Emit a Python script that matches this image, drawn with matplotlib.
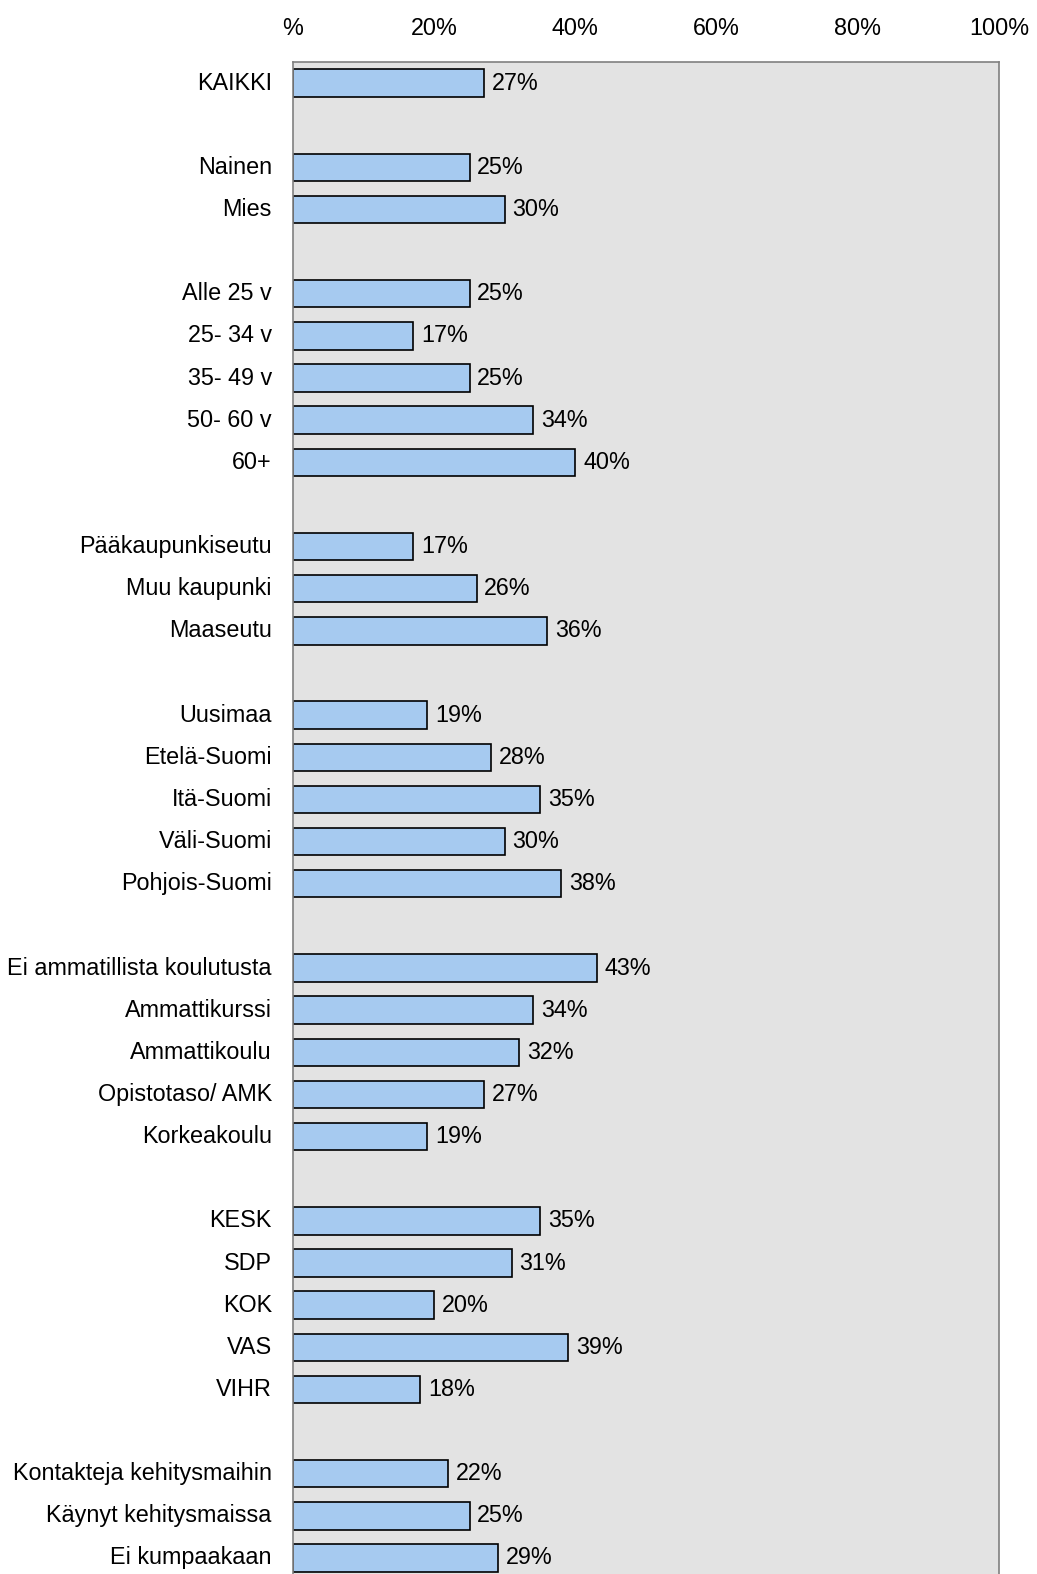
import matplotlib
matplotlib.use("Agg")
import matplotlib.pyplot as plt

plt.rcParams['font.family'] = ['Liberation Sans', 'DejaVu Sans']

# rows from top to bottom, None = empty spacer row
labels = ["KAIKKI", None,
          "Nainen", "Mies", None,
          "Alle 25 v", "25- 34 v", "35- 49 v", "50- 60 v", "60+", None,
          "Pääkaupunkiseutu", "Muu kaupunki", "Maaseutu", None,
          "Uusimaa", "Etelä-Suomi", "Itä-Suomi", "Väli-Suomi", "Pohjois-Suomi", None,
          "Ei ammatillista koulutusta", "Ammattikurssi", "Ammattikoulu", "Opistotaso/ AMK", "Korkeakoulu", None,
          "KESK", "SDP", "KOK", "VAS", "VIHR", None,
          "Kontakteja kehitysmaihin", "Käynyt kehitysmaissa", "Ei kumpaakaan"]
values = [27, None,
          25, 30, None,
          25, 17, 25, 34, 40, None,
          17, 26, 36, None,
          19, 28, 35, 30, 38, None,
          43, 34, 32, 27, 19, None,
          35, 31, 20, 39, 18, None,
          22, 25, 29]
xticks = [0, 20, 40, 60, 80, 100]
xticklabels = ["%", "20%", "40%", "60%", "80%", "100%"]

fs = 16.8
fig = plt.figure(figsize=(10.37, 15.74), dpi=100)
ax = fig.add_axes([293/1037, 0, (999-293)/1037, 1 - 62/1574])
ax.set_facecolor('#e3e3e3')

for i, (lab, v) in enumerate(zip(labels, values)):
    if lab is None:
        continue
    ax.barh(i, v, height=0.65, color='#a6caf0', edgecolor='black', linewidth=1.2)
    ax.text(v + 1.1, i, f"{v}%", va='center', ha='left', fontsize=fs)
    ax.text(-3, i, lab, va='center', ha='right', fontsize=fs)

ax.set_xlim(0, 100)
ax.set_ylim(35.38, -0.5)
ax.set_yticks([])
ax.xaxis.tick_top()
ax.set_xticks(xticks)
ax.set_xticklabels(xticklabels, fontsize=fs)
ax.tick_params(axis='x', length=0, pad=15.5)
for s in ax.spines.values():
    s.set_color('#808080')
    s.set_linewidth(1.2)
ax.spines['bottom'].set_visible(False)

plt.savefig("out.png")
